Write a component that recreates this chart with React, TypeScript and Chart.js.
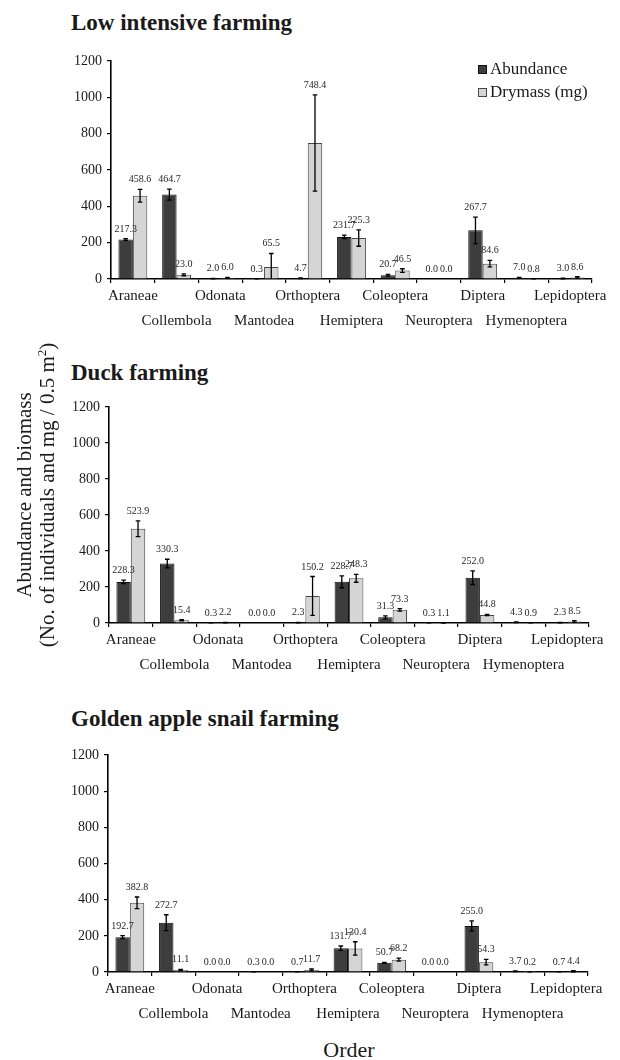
import React, { useEffect, useRef } from "react";
import { Chart, registerables } from "chart.js";

Chart.register(...registerables);

const SERIF = '"Liberation Serif", "Times New Roman", serif';

// Insect orders on the x axis
const CATEGORIES = [
  "Araneae",
  "Collembola",
  "Odonata",
  "Mantodea",
  "Orthoptera",
  "Hemiptera",
  "Coleoptera",
  "Neuroptera",
  "Diptera",
  "Hymenoptera",
  "Lepidoptera",
];

const SERIES_NAMES = ["Abundance", "Drymass (mg)"];

const Y_MIN = 0;
const Y_MAX = 1200;
const Y_STEP = 200;

// Low intensive farming
const LOW_ABUNDANCE = [217.3, 464.7, 2.0, 0.3, 4.7, 231.7, 20.7, 0.0, 267.7, 7.0, 3.0];
const LOW_ABUNDANCE_SE = [5, 30, 1, 0.5, 2, 10, 5, 0, 73, 2, 2];
const LOW_DRYMASS = [458.6, 23.0, 6.0, 65.5, 748.4, 225.3, 46.5, 0.0, 84.6, 0.8, 8.6];
const LOW_DRYMASS_SE = [35, 5, 3, 75, 265, 45, 10, 0, 18, 0.5, 4];

// Duck farming
const DUCK_ABUNDANCE = [228.3, 330.3, 0.3, 0.0, 2.3, 228.7, 31.3, 0.3, 252.0, 4.3, 2.3];
const DUCK_ABUNDANCE_SE = [10, 24, 0.5, 0, 1, 33, 8, 0.5, 38, 2, 1];
const DUCK_DRYMASS = [523.9, 15.4, 2.2, 0.0, 150.2, 248.3, 73.3, 1.1, 44.8, 0.9, 8.5];
const DUCK_DRYMASS_SE = [44, 3, 1, 0, 108, 22, 7, 1, 3, 0.5, 5];

// Golden apple snail farming
const SNAIL_ABUNDANCE = [192.7, 272.7, 0.0, 0.3, 0.7, 131.7, 50.7, 0.0, 255.0, 3.7, 0.7];
const SNAIL_ABUNDANCE_SE = [8, 44, 0, 0.5, 0.5, 12, 3, 0, 28, 2, 0.5];
const SNAIL_DRYMASS = [382.8, 11.1, 0.0, 0.0, 11.7, 130.4, 68.2, 0.0, 54.3, 0.2, 4.4];
const SNAIL_DRYMASS_SE = [32, 3, 0, 0, 5, 37, 8, 0, 15, 0.2, 3];

const DARK_FILL = "#3d3d3d";
const DARK_EDGE = "#111111";
const LIGHT_FILL = "#d5d5d5";
const LIGHT_EDGE = "#484848";
const TEXT = "#1a1a1a";

type Panel = {
  title: string;
  abundance: number[];
  abundanceSe: number[];
  drymass: number[];
  drymassSe: number[];
  legend: boolean;
  canvasTop: number;
  canvasHeight: number;
  areaTop: number;
  areaBottom: number;
  axisLeft: number;
  axisRight: number;
  titleTop: number;
};

const PANELS: Panel[] = [
  {
    title: "Low intensive farming",
    abundance: LOW_ABUNDANCE,
    abundanceSe: LOW_ABUNDANCE_SE,
    drymass: LOW_DRYMASS,
    drymassSe: LOW_DRYMASS_SE,
    legend: true,
    canvasTop: 40,
    canvasHeight: 300,
    areaTop: 61,
    areaBottom: 279,
    axisLeft: 111,
    axisRight: 592,
    titleTop: 11,
  },
  {
    title: "Duck farming",
    abundance: DUCK_ABUNDANCE,
    abundanceSe: DUCK_ABUNDANCE_SE,
    drymass: DUCK_DRYMASS,
    drymassSe: DUCK_DRYMASS_SE,
    legend: false,
    canvasTop: 385,
    canvasHeight: 300,
    areaTop: 407,
    areaBottom: 623,
    axisLeft: 109,
    axisRight: 589,
    titleTop: 361,
  },
  {
    title: "Golden apple snail farming",
    abundance: SNAIL_ABUNDANCE,
    abundanceSe: SNAIL_ABUNDANCE_SE,
    drymass: SNAIL_DRYMASS,
    drymassSe: SNAIL_DRYMASS_SE,
    legend: false,
    canvasTop: 735,
    canvasHeight: 300,
    areaTop: 755,
    areaBottom: 972,
    axisLeft: 108,
    axisRight: 588,
    titleTop: 707,
  },
];

const WIDTH = 620;

// Draws standard-error whiskers and the value of each bar above it
const errorBarsAndLabels = {
  id: "errorBarsAndLabels",
  afterDatasetsDraw(chart: any) {
    const { ctx } = chart;
    const yScale = chart.scales.y;
    chart.data.datasets.forEach((ds: any, d: number) => {
      const meta = chart.getDatasetMeta(d);
      const errs: number[] = ds.errors || [];
      meta.data.forEach((bar: any, i: number) => {
        const v = ds.data[i] as number;
        const e = errs[i] || 0;
        const x = bar.x;
        let top = yScale.getPixelForValue(v);
        if (e > 0) {
          const yHi = yScale.getPixelForValue(v + e);
          const yLo = yScale.getPixelForValue(Math.max(v - e, 0));
          ctx.save();
          ctx.strokeStyle = "#000";
          ctx.lineWidth = 1.3;
          ctx.beginPath();
          ctx.moveTo(x, yHi);
          ctx.lineTo(x, yLo);
          ctx.moveTo(x - 2.3, yHi);
          ctx.lineTo(x + 2.3, yHi);
          if (v - e > 0) {
            ctx.moveTo(x - 2.3, yLo);
            ctx.lineTo(x + 2.3, yLo);
          }
          ctx.stroke();
          ctx.restore();
          top = Math.min(top, yHi);
        }
        ctx.save();
        ctx.font = `10px ${SERIF}`;
        ctx.fillStyle = "#262626";
        ctx.textAlign = "center";
        ctx.textBaseline = "alphabetic";
        ctx.fillText(v.toFixed(1), x, top - 7);
        ctx.restore();
      });
    });
  },
};

// Legend drawn inside the top-right corner of the plot area
const cornerLegend = {
  id: "cornerLegend",
  afterDraw(chart: any) {
    const { ctx, chartArea } = chart;
    const x0 = chartArea.right - 114;
    let y = chartArea.top + 4;
    chart.data.datasets.forEach((ds: any) => {
      ctx.save();
      ctx.fillStyle = ds.backgroundColor;
      ctx.fillRect(x0, y, 9, 9);
      ctx.strokeStyle = ds.borderColor;
      ctx.lineWidth = 1;
      ctx.strokeRect(x0 + 0.5, y + 0.5, 8, 8);
      ctx.font = `17px ${SERIF}`;
      ctx.fillStyle = TEXT;
      ctx.textAlign = "left";
      ctx.textBaseline = "middle";
      ctx.fillText(ds.label, x0 + 12, y + 5);
      ctx.restore();
      y += 23;
    });
  },
};

function PanelChart({ panel }: { panel: Panel }) {
  const ref = useRef<HTMLCanvasElement | null>(null);

  useEffect(() => {
    if (!ref.current) return;
    const xAxisHeight = panel.canvasTop + panel.canvasHeight - panel.areaBottom;
    const chart = new Chart(ref.current, {
      type: "bar",
      data: {
        labels: CATEGORIES,
        datasets: [
          {
            label: SERIES_NAMES[0],
            data: panel.abundance,
            errors: panel.abundanceSe,
            backgroundColor: DARK_FILL,
            borderColor: DARK_EDGE,
            borderWidth: 1,
            categoryPercentage: 0.66,
            barPercentage: 1.0,
          } as any,
          {
            label: SERIES_NAMES[1],
            data: panel.drymass,
            errors: panel.drymassSe,
            backgroundColor: LIGHT_FILL,
            borderColor: LIGHT_EDGE,
            borderWidth: 1,
            categoryPercentage: 0.66,
            barPercentage: 1.0,
          } as any,
        ],
      },
      options: {
        responsive: false,
        animation: false,
        devicePixelRatio: 1,
        layout: {
          padding: {
            top: panel.areaTop - panel.canvasTop,
            right: WIDTH - panel.axisRight,
            left: 0,
            bottom: 0,
          },
        },
        plugins: {
          legend: { display: false },
          tooltip: { enabled: false },
          title: { display: false },
        },
        scales: {
          x: {
            offset: true,
            grid: {
              offset: true,
              drawOnChartArea: false,
              drawTicks: true,
              tickLength: 4,
              color: "#000",
              lineWidth: 1.2,
            },
            border: { display: true, color: "#000", width: 1.6 },
            ticks: {
              autoSkip: false,
              maxRotation: 0,
              minRotation: 0,
              padding: 0,
              color: TEXT,
              font: { family: SERIF, size: 15, lineHeight: 1.69 },
              callback: (_v: any, i: number) =>
                i % 2 === 0 ? [CATEGORIES[i]] : ["", CATEGORIES[i]],
            },
            afterFit: (scale: any) => {
              scale.height = xAxisHeight;
            },
          },
          y: {
            min: Y_MIN,
            max: Y_MAX,
            grid: {
              drawOnChartArea: false,
              drawTicks: true,
              tickLength: 4,
              color: "#000",
              lineWidth: 1.2,
            },
            border: { display: true, color: "#000", width: 1.6 },
            ticks: {
              stepSize: Y_STEP,
              padding: 5,
              color: TEXT,
              font: { family: SERIF, size: 14 },
              callback: (v: any) => String(v),
            },
            afterFit: (scale: any) => {
              scale.width = panel.axisLeft;
            },
          },
        },
      },
      plugins: panel.legend ? [errorBarsAndLabels, cornerLegend] : [errorBarsAndLabels],
    } as any);
    return () => chart.destroy();
  }, [panel]);

  return (
    <canvas
      ref={ref}
      width={WIDTH}
      height={panel.canvasHeight}
      style={{
        position: "absolute",
        left: 0,
        top: panel.canvasTop,
        width: WIDTH,
        height: panel.canvasHeight,
      }}
    />
  );
}

export default function App() {
  return (
    <div
      style={{
        position: "absolute",
        left: 0,
        top: 0,
        width: WIDTH,
        height: 1060,
        background: "#fff",
        fontFamily: SERIF,
        color: TEXT,
        overflow: "hidden",
      }}
    >
      {PANELS.map((p) => (
        <div
          key={p.title + "-t"}
          style={{
            position: "absolute",
            left: 71,
            top: p.titleTop,
            fontSize: 23,
            lineHeight: "23px",
            fontWeight: "bold",
            whiteSpace: "nowrap",
          }}
        >
          {p.title}
        </div>
      ))}
      {PANELS.map((p) => (
        <PanelChart key={p.title} panel={p} />
      ))}
      <div
        style={{
          position: "absolute",
          left: 36,
          top: 495,
          width: 360,
          transform: "translate(-50%, -50%) rotate(-90deg)",
          textAlign: "center",
          fontSize: 21,
          lineHeight: "23px",
          whiteSpace: "nowrap",
        }}
      >
        <div>Abundance and biomass</div>
        <div>
          (No. of individuals and mg / 0.5 m
          <sup style={{ fontSize: 13, lineHeight: 0 }}>2</sup>)
        </div>
      </div>
      <div
        style={{
          position: "absolute",
          left: 349,
          top: 1050,
          transform: "translate(-50%, -50%)",
          fontSize: 22,
          lineHeight: "24px",
          whiteSpace: "nowrap",
        }}
      >
        Order
      </div>
    </div>
  );
}
